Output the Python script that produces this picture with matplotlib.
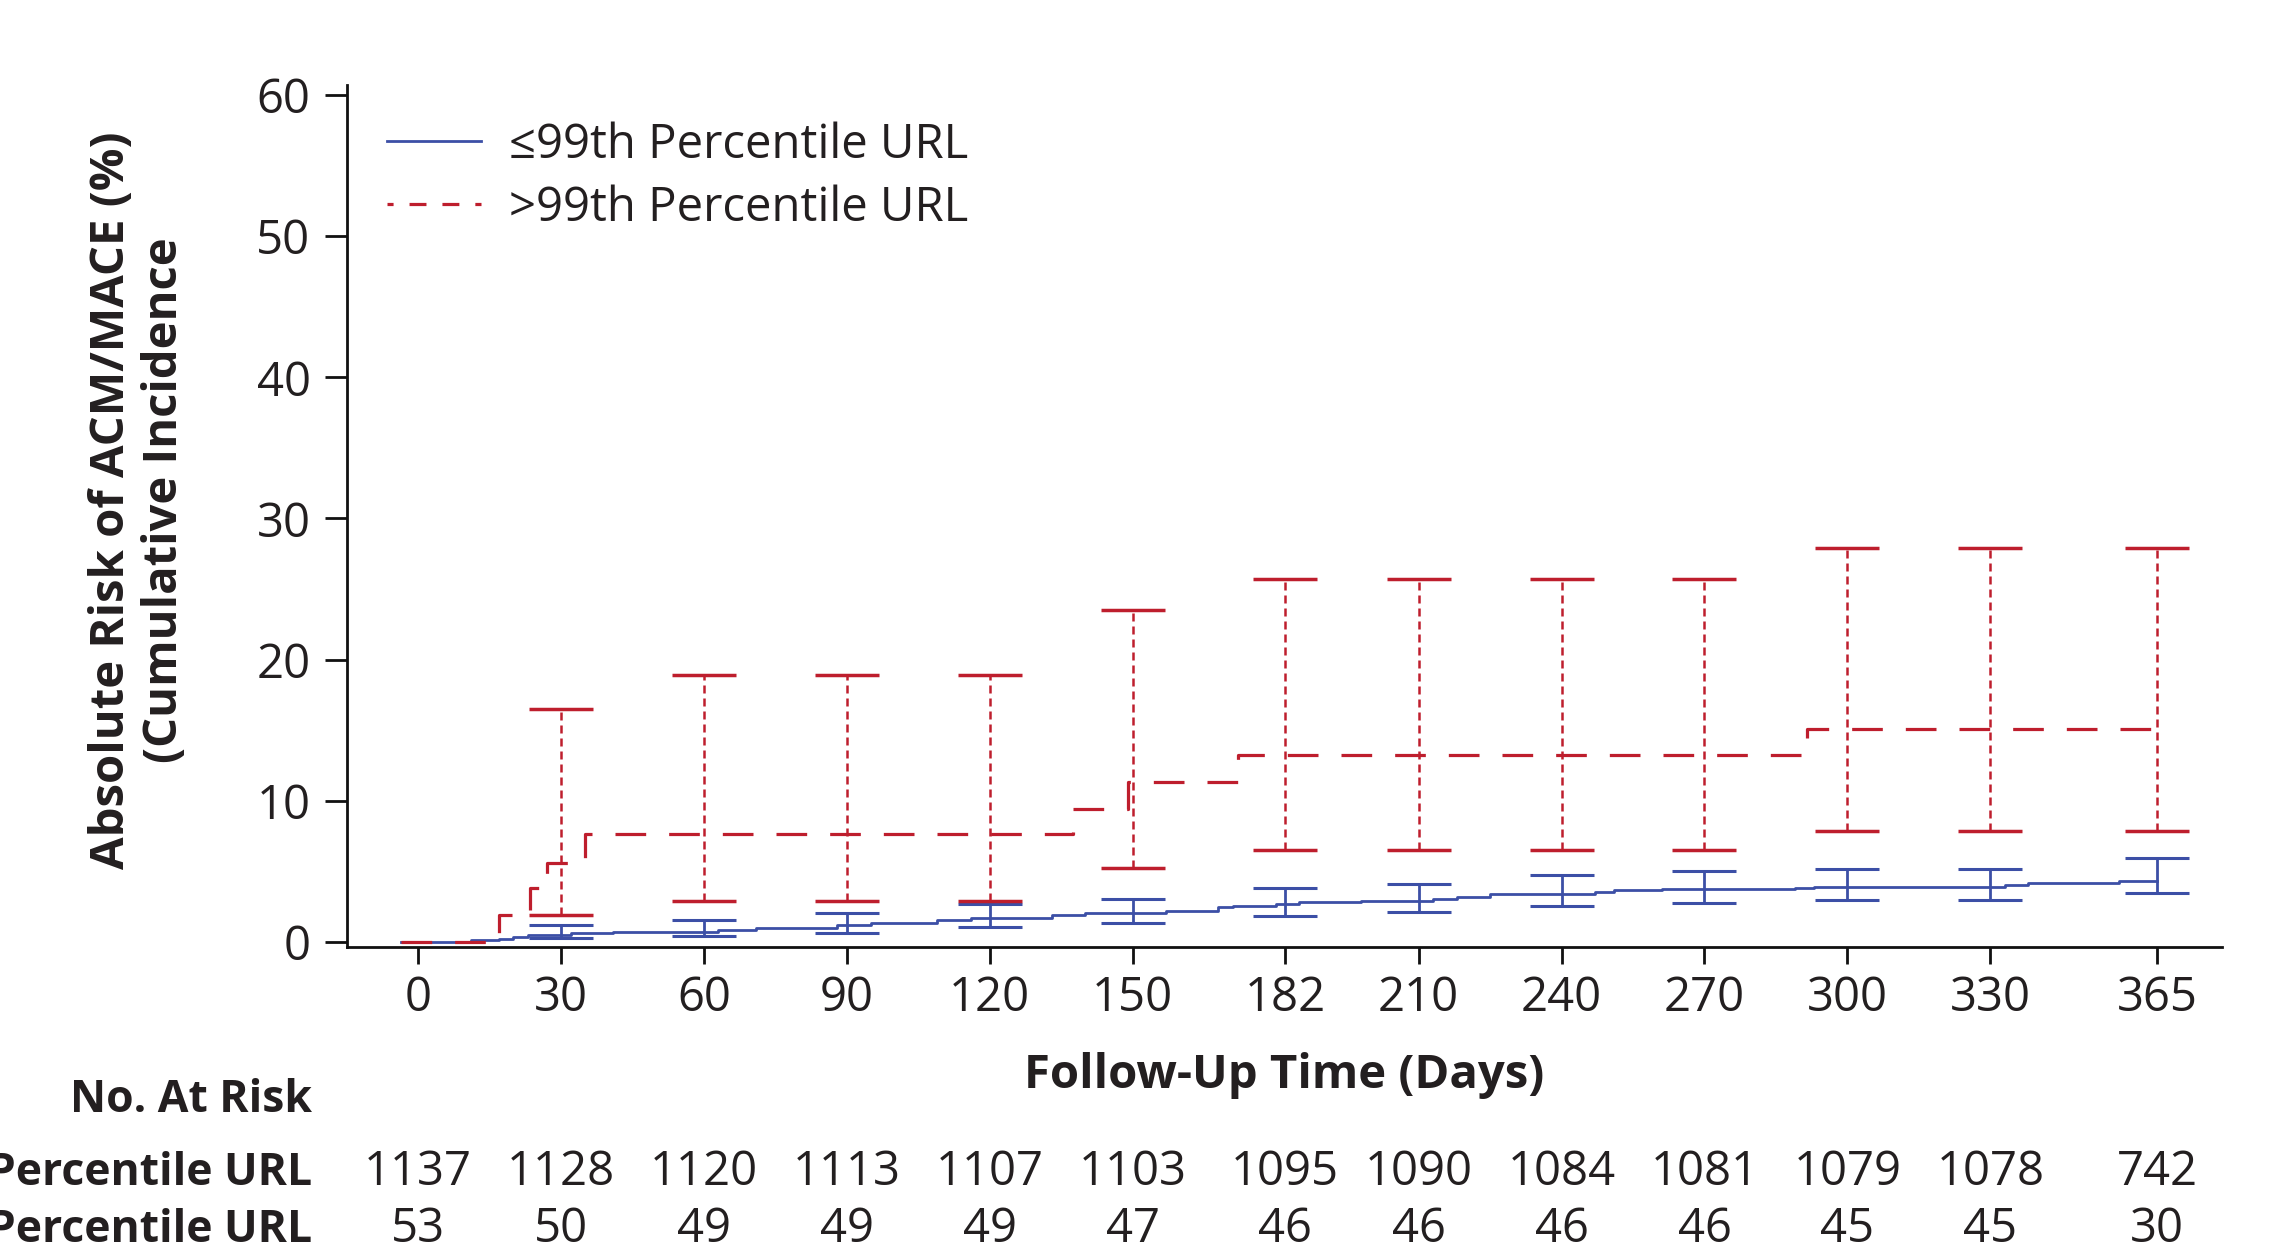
import numpy as np
import matplotlib.pyplot as plt
from matplotlib.lines import Line2D
from matplotlib.transforms import blended_transform_factory

plt.rcParams['font.family'] = ['Open Sans', 'DejaVu Sans']
plt.rcParams['text.color'] = '#231f20'

# step curves (day, cumulative incidence %)
low_t = [-3.5, 11, 17, 20, 23, 27, 32, 41, 63, 71, 88, 95, 109, 116, 133, 140,
         157, 168, 171, 180, 185, 198, 213, 218, 225, 247, 251, 261, 289, 293,
         333, 338, 357, 365]
low_y = [0, 0.1, 0.22, 0.35, 0.45, 0.5, 0.6, 0.7, 0.82, 0.95, 1.15, 1.33, 1.52,
         1.66, 1.9, 2.05, 2.2, 2.44, 2.56, 2.68, 2.78, 2.9, 3.03, 3.2, 3.37, 3.5,
         3.63, 3.72, 3.8, 3.9, 4.02, 4.18, 4.3, 4.3]
high_t = [-3.5, 17, 23.5, 27, 35, 137.5, 149, 172, 291.5, 365]
high_y = [0, 1.9, 3.8, 5.6, 7.6, 9.4, 11.3, 13.2, 15.1, 15.1]

# confidence intervals at the tick days
days = [0, 30, 60, 90, 120, 150, 182, 210, 240, 270, 300, 330, 365]
ci_days = days[1:]
low_mid = [0.5, 0.7, 1.15, 1.66, 2.05, 2.68, 2.9, 3.37, 3.72, 3.9, 3.9, 4.3]
low_lo = [0.24, 0.4, 0.64, 1.07, 1.35, 1.85, 2.08, 2.56, 2.72, 2.93, 2.93, 3.43]
low_hi = [1.18, 1.54, 2.0, 2.67, 3.03, 3.79, 4.07, 4.71, 5.01, 5.16, 5.16, 5.91]
high_mid = [5.6, 7.6, 7.6, 7.6, 11.3, 13.2, 13.2, 13.2, 13.2, 15.1, 15.1, 15.1]
high_lo = [1.9, 2.9, 2.9, 2.9, 5.2, 6.5, 6.5, 6.5, 6.5, 7.85, 7.85, 7.85]
high_hi = [16.5, 18.9, 18.9, 18.9, 23.5, 25.7, 25.7, 25.7, 25.7, 27.9, 27.9, 27.9]

# number at risk
risk_low = [1137, 1128, 1120, 1113, 1107, 1103, 1095, 1090, 1084, 1081, 1079, 1078, 742]
risk_high = [53, 50, 49, 49, 49, 47, 46, 46, 46, 46, 45, 45, 30]
lab_low = '≤99th Percentile URL'
lab_high = '>99th Percentile URL'

blue = '#3c4fa6'
red = '#be1e2d'
fs = 34
fs_tab = 32

fig = plt.figure(figsize=(22.73, 12.52), dpi=100)
ax = fig.add_axes([0.1525, 0.2439, 0.8250, 0.6880])

ax.step(low_t, low_y, where='post', color=blue, lw=2.0, zorder=3)
ax.step(high_t, high_y, where='post', color=red, lw=2.3,
        linestyle=(0, (9.6, 7.2)), zorder=4)

lm = np.array(low_mid)
eb1 = ax.errorbar(ci_days, lm, yerr=[lm - np.array(low_lo), np.array(low_hi) - lm],
                  fmt='none', ecolor=blue, elinewidth=2.0, capsize=23, capthick=2.2,
                  zorder=3)
hm = np.array(high_mid)
eb2 = ax.errorbar(ci_days, hm, yerr=[hm - np.array(high_lo), np.array(high_hi) - hm],
                  fmt='none', ecolor=red, elinewidth=1.8, capsize=23, capthick=2.5,
                  zorder=4)
eb2[2][0].set_linestyle((0, (3.2, 2.0)))

ax.set_xlim(-15, 378.6)
ax.set_ylim(-0.35, 60.7)
ax.set_xticks(days)
ax.set_yticks([0, 10, 20, 30, 40, 50, 60])
ax.spines['top'].set_visible(False)
ax.spines['right'].set_visible(False)
for s in ['left', 'bottom']:
    ax.spines[s].set_linewidth(2.0)
    ax.spines[s].set_color('#111111')
ax.tick_params(axis='x', length=12, width=2.0, pad=8, labelsize=fs, colors='#111111',
               labelcolor='#231f20')
ax.tick_params(axis='y', length=16, width=2.0, pad=10, labelsize=fs, colors='#111111',
               labelcolor='#231f20')

handles = [Line2D([], [], color=blue, lw=2.0),
           Line2D([], [], color=red, lw=2.3, linestyle=(3.4, (5.3, 5.0)))]
ax.legend(handles, [lab_low, lab_high], loc='upper left', frameon=False,
          bbox_to_anchor=(0.0213, 0.958), bbox_transform=ax.transAxes,
          borderpad=0, borderaxespad=0, handlelength=2.0, handletextpad=0.6,
          labelspacing=0.33, fontsize=fs)

fig.text(0.0606, 0.6006, 'Absolute Risk of ACM/MACE (%)\n(Cumulative Incidence',
         rotation=90, ha='center', va='center', multialignment='center',
         fontsize=fs, fontweight='bold', linespacing=1.18)

tr = blended_transform_factory(ax.transAxes, fig.transFigure)
fig.text(0.5, 0.1307, 'Follow-Up Time (Days)', transform=tr, ha='center',
         va='baseline', fontsize=fs, fontweight='bold')

fig.text(0.1371, 0.1121, 'No. At Risk', ha='right', va='baseline', fontsize=fs_tab,
         fontweight='bold')
fig.text(0.1371, 0.0535, lab_low, ha='right', va='baseline', fontsize=fs_tab,
         fontweight='bold')
fig.text(0.1371, 0.0077, lab_high, ha='right', va='baseline', fontsize=fs_tab,
         fontweight='bold')

trd = blended_transform_factory(ax.transData, fig.transFigure)
for d, a, b in zip(days, risk_low, risk_high):
    ax.text(d, 0.0535, str(a), transform=trd, ha='center', va='baseline', fontsize=fs)
    ax.text(d, 0.0077, str(b), transform=trd, ha='center', va='baseline', fontsize=fs)

fig.savefig('out.png', dpi=100)
